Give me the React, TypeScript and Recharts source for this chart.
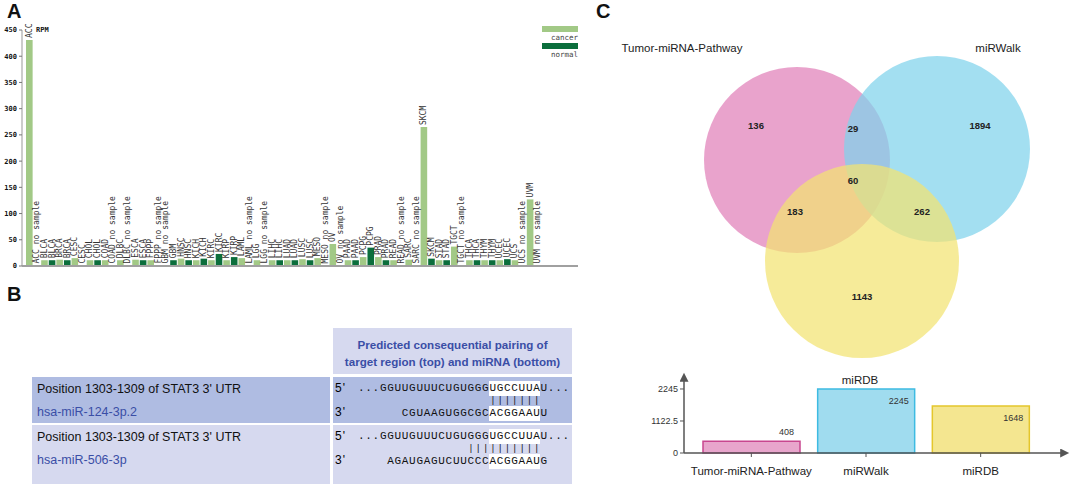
import React from 'react';
import { BarChart, Bar, XAxis, YAxis, Cell, LabelList, ScatterChart, Scatter } from 'recharts';

// ---- panel A: miRNA expression across TCGA tumour types (RPM) ----
const tumorTypes = [
  'ACC', 'BLCA', 'BRCA', 'CESC', 'CHOL', 'COAD', 'DLBC', 'ESCA', 'FPPP', 'GBM',
  'HNSC', 'KICH', 'KIRC', 'KIRP', 'LAML', 'LGG', 'LIHC', 'LUAD', 'LUSC', 'MESO',
  'OV', 'PAAD', 'PCPG', 'PRAD', 'READ', 'SARC', 'SKCM', 'STAD', 'TGCT', 'THCA',
  'THYM', 'UCEC', 'UCS', 'UVM',
];
// null = "no sample"
const cancerRpm = [
  431, 11, 12, 15, 11, 11, 11, 12, 11, null,
  14, 11, 11, 11, 15, 11, 11, 11, 13, 15,
  42, 11, 17, 17, 11, 12, 265, 11, 37, 11,
  11, 11, 11, 127,
];
const normalRpm = [
  null, 11, 11, 0, 11, null, null, 11, null, 11,
  11, 14, 23, 17, null, null, 11, 11, 11, null,
  null, 11, 35, 11, null, null, 14, 11, null, 11,
  11, 13, null, null,
];
const rpmTicks = [0, 50, 100, 150, 200, 250, 300, 350, 400, 450];

// ---- panel C: Venn of predicted miRNAs ----
const vennSets = ['Tumor-miRNA-Pathway', 'miRWalk', 'miRDB'];
const setTotals = [408, 2245, 1648];
const totalTicks = [0, 1122.5, 2245];
// region counts: only A, A∩B, only B, A∩B∩C, A∩C, B∩C, only C
const regionCounts = [136, 29, 1894, 60, 183, 262, 1143];

// venn layout in the scatter's own units (x 0..480, y 0..400 downwards)
const vennCircles = [
  { x: 205, y: 160, r: 93, fill: '#e07fb8' },
  { x: 345, y: 149, r: 93, fill: '#7fd2ec' },
  { x: 270, y: 261, r: 97, fill: '#f2e372' },
];
const vennNameSpots = [{ x: 90, y: 48 }, { x: 406, y: 48 }, { x: 268, y: 380 }];
const regionSpots = [
  { x: 164, y: 125 }, { x: 261, y: 128 }, { x: 388, y: 125 }, { x: 261, y: 180 },
  { x: 203, y: 211 }, { x: 330, y: 211 }, { x: 270, y: 296 },
];

const LIGHT_GREEN = '#a2c986';
const DARK_GREEN = '#0b6e3c';
const MONO = '"DejaVu Sans Mono", monospace';
const SANS = '"Liberation Sans", Arial, sans-serif';

const rpmRows = tumorTypes.flatMap((t, i) => [
  {
    key: `${t}-c`,
    label: cancerRpm[i] == null ? `${t} no sample` : t,
    value: cancerRpm[i] ?? 0,
    kind: 'cancer',
  },
  {
    key: `${t}-n`,
    label: normalRpm[i] == null ? `${t} no sample` : t,
    value: normalRpm[i] ?? 0,
    kind: 'normal',
  },
]);

const totalRows = vennSets.map((name, i) => ({ name, total: setTotals[i] }));
const totalFills = ['#e8a5cc', '#a0dcef', '#f4e690'];
const totalStrokes = ['#c8468f', '#3dbbe2', '#e4c62c'];

const renderBarTag = (props: any) => {
  const { x, y, width, value } = props;
  const cx = x + width / 2;
  const ty = y - 2;
  return (
    <text
      x={cx}
      y={ty}
      transform={`rotate(-90 ${cx} ${ty})`}
      fontSize={8}
      fontFamily={MONO}
      fill="#333"
      dominantBaseline="central"
    >
      {value}
    </text>
  );
};

const renderTotalTag = (props: any) => {
  const { x, y, width, value } = props;
  const inside = value > 1000;
  return (
    <text
      x={x + width - 6}
      y={inside ? y + 12 : y - 9}
      textAnchor="end"
      dominantBaseline="central"
      fontSize={9}
      fontFamily={SANS}
      fill="#333"
    >
      {value}
    </text>
  );
};

const CategoryTick = (props: any) => {
  const { x, y, payload } = props;
  return (
    <text x={x} y={y + 16} textAnchor="middle" fontSize={11.5} fontFamily={SANS} fill="#222">
      {payload.value}
    </text>
  );
};

// ---- panel B: sequence helpers ----
const COL = 7.3;
const SEQ_LEFT = 358;
const SEQ_FONT: React.CSSProperties = {
  position: 'absolute',
  fontSize: 11,
  letterSpacing: 0.7,
  fontFamily: '"Liberation Mono", monospace',
  color: '#111',
  lineHeight: '11px',
  height: 11,
  whiteSpace: 'pre',
};
const PIPE_FONT: React.CSSProperties = {
  ...SEQ_FONT,
  fontSize: 9,
  letterSpacing: 1.9,
  lineHeight: '9px',
  height: 9,
};

function PairRow({ top, bg, mirna, bottomSeq, bottomStart, pipeFrom }: any) {
  return (
    <>
      <div style={{ position: 'absolute', left: 32, top, width: 298, height: 46, background: bg }} />
      <div style={{ position: 'absolute', left: 333, top, width: 239, height: 46, background: bg }} />
      <div style={{ position: 'absolute', left: 37, top: top + 4, fontSize: 12.5, fontFamily: SANS, color: '#111', lineHeight: '16px' }}>
        Position 1303-1309 of STAT3 3' UTR
      </div>
      <div style={{ position: 'absolute', left: 37, top: top + 27, fontSize: 12.5, fontFamily: SANS, color: '#3a4ea6', lineHeight: '16px' }}>
        {mirna}
      </div>
      <div style={{ position: 'absolute', left: 335, top: top + 5, fontSize: 12, fontFamily: SANS, letterSpacing: 1, lineHeight: '13px' }}>5'</div>
      <div style={{ position: 'absolute', left: 335, top: top + 29, fontSize: 12, fontFamily: SANS, letterSpacing: 1, lineHeight: '13px' }}>3'</div>
      {/* white seed highlights */}
      <div style={{ position: 'absolute', left: SEQ_LEFT + 18 * COL, top: top + 4, width: 7 * COL, height: 15, background: '#fff' }} />
      <div style={{ position: 'absolute', left: SEQ_LEFT + 18 * COL, top: top + 29, width: 7 * COL, height: 15, background: '#fff' }} />
      <div style={{ ...SEQ_FONT, left: SEQ_LEFT, top: top + 6 }}>...GGUUGUUUCUGUGGGUGCCUUAU...</div>
      <div style={{ ...PIPE_FONT, left: SEQ_LEFT + pipeFrom * COL + 0.8, top: top + 19.5 }}>{'|'.repeat(25 - pipeFrom)}</div>
      <div style={{ ...SEQ_FONT, left: SEQ_LEFT + bottomStart * COL, top: top + 31 }}>{bottomSeq}</div>
    </>
  );
}

const letterStyle: React.CSSProperties = {
  position: 'absolute',
  fontFamily: SANS,
  fontWeight: 700,
  fontSize: 20,
  color: '#111',
  lineHeight: '20px',
};

export default function App() {
  return (
    <div style={{ position: 'relative', width: 1072, height: 486, background: '#fff', overflow: 'hidden', fontFamily: SANS }}>
      <style>{'body{margin:0}'}</style>
      <svg width={0} height={0} style={{ position: 'absolute' }}>
        <defs>
          <marker
            id="axisArrow"
            viewBox="0 0 10 10"
            refX="2"
            refY="5"
            markerWidth="11"
            markerHeight="9"
            markerUnits="userSpaceOnUse"
            orient="auto-start-reverse"
          >
            <path d="M0,0 L10,5 L0,10 z" fill="#555" />
          </marker>
        </defs>
      </svg>

      {/* panel letters */}
      <div style={{ ...letterStyle, left: 7, top: 1 }}>A</div>
      <div style={{ ...letterStyle, left: 7, top: 284 }}>B</div>
      <div style={{ ...letterStyle, left: 596, top: 1 }}>C</div>

      {/* ---- A ---- */}
      <div style={{ position: 'absolute', left: 0, top: 0 }}>
        <BarChart width={580} height={272} data={rpmRows} margin={{ top: 30, right: 2, bottom: 5, left: 0 }}>
          <XAxis
            dataKey="key"
            type="category"
            tick={false}
            tickLine={false}
            height={1}
            padding={{ left: 4, right: 36 }}
            axisLine={{ stroke: '#a0a0a0', strokeWidth: 2 }}
          />
          <YAxis
            width={22}
            domain={[0, 450]}
            ticks={rpmTicks}
            interval={0}
            tickSize={3}
            axisLine={{ stroke: '#999' }}
            tickLine={{ stroke: '#777' }}
            tick={{ fontSize: 7, fontFamily: MONO, fontWeight: 700, fill: '#111' }}
          />
          <Bar dataKey="value" barSize={6.6} minPointSize={0.5} isAnimationActive={false}>
            {rpmRows.map((r) => (
              <Cell key={r.key} fill={r.kind === 'cancer' ? LIGHT_GREEN : DARK_GREEN} />
            ))}
            <LabelList dataKey="label" content={renderBarTag} />
          </Bar>
        </BarChart>
      </div>
      <div style={{ position: 'absolute', left: 36, top: 26, fontSize: 7, fontFamily: MONO, fontWeight: 700, color: '#111' }}>RPM</div>
      {/* legend A */}
      <div style={{ position: 'absolute', left: 542, top: 26, width: 36, height: 6, background: LIGHT_GREEN }} />
      <div style={{ position: 'absolute', right: 1072 - 578, top: 33, fontSize: 7.5, fontFamily: MONO, color: '#444', lineHeight: '9px' }}>cancer</div>
      <div style={{ position: 'absolute', left: 542, top: 43, width: 36, height: 6, background: DARK_GREEN }} />
      <div style={{ position: 'absolute', right: 1072 - 578, top: 50, fontSize: 7.5, fontFamily: MONO, color: '#444', lineHeight: '9px' }}>normal</div>

      {/* ---- B ---- */}
      <div style={{ position: 'absolute', left: 333, top: 328, width: 239, height: 46, background: '#d6d9ef' }} />
      <div
        style={{
          position: 'absolute',
          left: 333,
          top: 336,
          width: 239,
          textAlign: 'center',
          fontSize: 11.6,
          fontWeight: 700,
          fontFamily: SANS,
          color: '#3a4ea6',
          lineHeight: '17px',
        }}
      >
        Predicted consequential pairing of
        <br />
        target region (top) and miRNA (bottom)
      </div>
      <PairRow top={377} bg="#afbce2" mirna="hsa-miR-124-3p.2" bottomSeq="CGUAAGUGGCGCACGGAAUU" bottomStart={6} pipeFrom={18} />
      <div style={{ position: 'absolute', left: 32, top: 471, width: 540, height: 13, background: '#d6d9ef' }} />
      <div style={{ position: 'absolute', left: 330, top: 471, width: 3, height: 13, background: '#fff' }} />
      <PairRow top={425} bg="#d6d9ef" mirna="hsa-miR-506-3p" bottomSeq="AGAUGAGUCUUCCCACGGAAUG" bottomStart={4} pipeFrom={15} />

      {/* ---- C: venn ---- */}
      <div style={{ position: 'absolute', left: 592, top: 0 }}>
        <ScatterChart width={480} height={400} margin={{ top: 0, right: 0, bottom: 0, left: 0 }}>
          <XAxis type="number" dataKey="x" domain={[0, 480]} hide />
          <YAxis type="number" dataKey="y" domain={[0, 400]} reversed hide />
          <Scatter
            data={vennCircles}
            isAnimationActive={false}
            shape={(p: any) => (
              <circle cx={p.cx} cy={p.cy} r={p.payload.r} fill={p.payload.fill} fillOpacity={0.72} stroke="none" />
            )}
          />
          <Scatter
            data={regionSpots.map((s, i) => ({ ...s, text: regionCounts[i] }))}
            isAnimationActive={false}
            shape={(p: any) => (
              <text x={p.cx} y={p.cy} textAnchor="middle" dominantBaseline="central" fontSize={9.5} fontWeight={700} fontFamily={SANS} fill="#222">
                {p.payload.text}
              </text>
            )}
          />
          <Scatter
            data={vennNameSpots.map((s, i) => ({ ...s, text: vennSets[i] }))}
            isAnimationActive={false}
            shape={(p: any) => (
              <text x={p.cx} y={p.cy} textAnchor="middle" dominantBaseline="central" fontSize={11.5} fontFamily={SANS} fill="#222">
                {p.payload.text}
              </text>
            )}
          />
        </ScatterChart>
      </div>

      {/* ---- C: set totals ---- */}
      <div style={{ position: 'absolute', left: 600, top: 370 }}>
        <BarChart width={472} height={116} data={totalRows} margin={{ top: 10, right: 10, bottom: 0, left: 0 }}>
          <XAxis
            dataKey="name"
            height={33}
            interval={0}
            tickSize={4}
            padding={{ left: 10, right: 24 }}
            axisLine={{ stroke: '#555', strokeWidth: 1.5, markerEnd: 'url(#axisArrow)' } as any}
            tickLine={{ stroke: '#555' }}
            tick={<CategoryTick />}
          />
          <YAxis
            width={84}
            domain={[0, 2560]}
            ticks={totalTicks}
            interval={0}
            tickSize={4}
            axisLine={{ stroke: '#555', strokeWidth: 1.5, markerStart: 'url(#axisArrow)' } as any}
            tickLine={{ stroke: '#555' }}
            tick={{ fontSize: 9, fontFamily: SANS, fill: '#333' }}
          />
          <Bar dataKey="total" barSize={97} isAnimationActive={false}>
            {totalRows.map((r, i) => (
              <Cell key={r.name} fill={totalFills[i]} stroke={totalStrokes[i]} strokeWidth={1.5} />
            ))}
            <LabelList dataKey="total" content={renderTotalTag} />
          </Bar>
        </BarChart>
      </div>
    </div>
  );
}
